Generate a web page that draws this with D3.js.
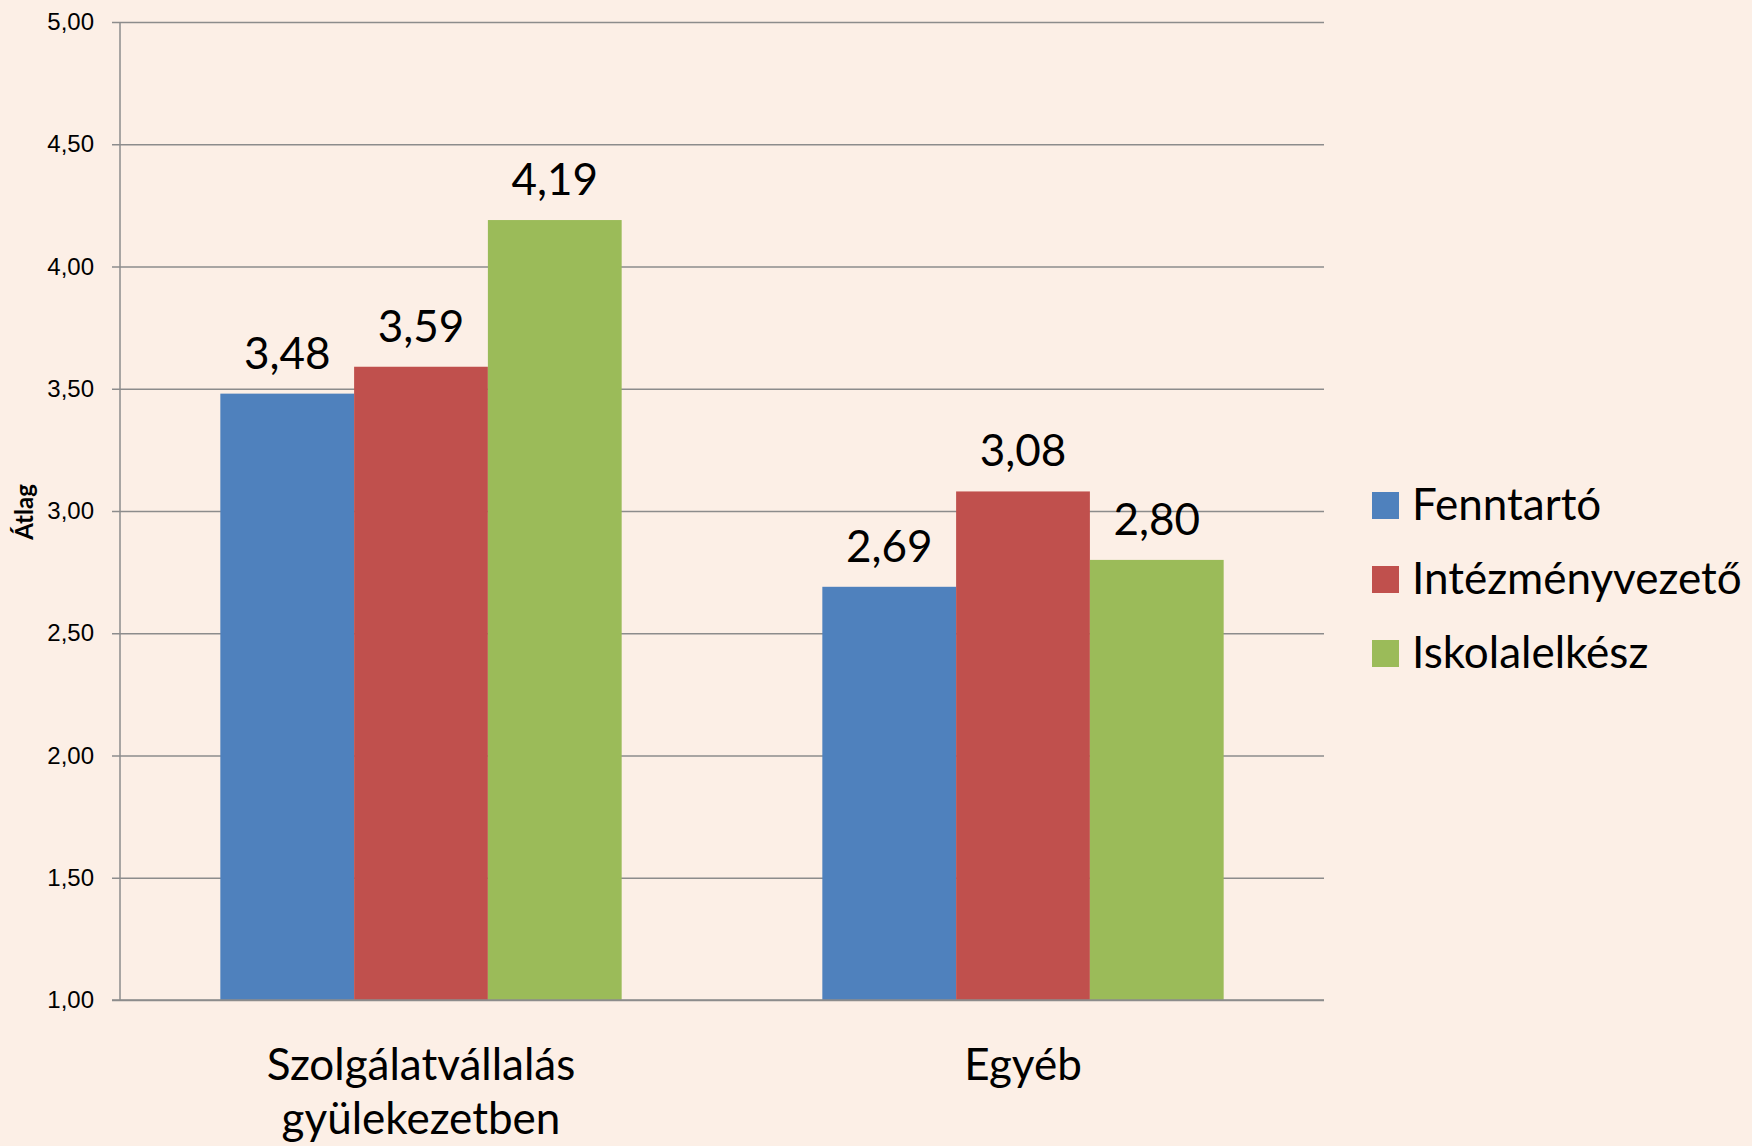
<!DOCTYPE html>
<html>
<head>
<meta charset="utf-8">
<script src="https://cdn.jsdelivr.net/npm/d3@7"></script>
<style>
  body { margin: 0; background: #fcefe6; }
  svg { display: block; font-family: Lato, Carlito, Calibri, sans-serif; }
</style>
</head>
<body>
<svg id="chart" width="1752" height="1146"></svg>
<script>
const categories = [['Szolgálatvállalás', 'gyülekezetben'], ['Egyéb']]
const seriesNames = ['Fenntartó', 'Intézményvezető', 'Iskolalelkész']
const fenntarto = [3.48, 2.69]
const intezmenyvezeto = [3.59, 3.08]
const iskolalelkesz = [4.19, 2.80]
const yTicks = [1, 1.5, 2, 2.5, 3, 3.5, 4, 4.5, 5]
const colors = ['#4f81bd', '#c0504d', '#9bbb59']

function BarChart(svgId) {
    this.svg = d3.select(svgId)
    this.series = [fenntarto, intezmenyvezeto, iskolalelkesz]
    this.load()
}

BarChart.prototype.load = function () {
    var svg = this.svg
    var left = 120, right = 1324, top = 22, bottom = 1000
    var fmt = (v) => v.toFixed(2).replace('.', ',')

    svg.append('rect')
        .attr('width', 1752)
        .attr('height', 1146)
        .attr('fill', '#fcefe6')

    this.x0 = d3.scaleBand()
        .domain(d3.range(categories.length))
        .range([left, right])
        .padding(0)

    this.x1 = d3.scaleBand()
        .domain(d3.range(seriesNames.length))
        .range([0, this.x0.bandwidth()])
        .paddingInner(0)
        .paddingOuter(0.75)

    this.y = d3.scaleLinear()
        .domain([1, 5])
        .range([bottom, top])

    // gridlines + left axis
    var yAxis = d3.axisLeft(this.y)
        .tickValues(yTicks)
        .tickSize(-(right - left))
        .tickSizeOuter(0)
        .tickFormat(fmt)
        .tickPadding(0)

    var ga = svg.append('g')
        .attr('transform', `translate(${left},0)`)
        .call(yAxis)
    ga.select('.domain').remove()
    ga.selectAll('.tick line')
        .attr('x1', -8)
        .attr('stroke', '#8c8c8c')
        .attr('stroke-width', 1.5)
    ga.selectAll('.tick text')
        .attr('x', -26)
        .attr('fill', '#000')
        .attr('font-size', 24)

    svg.append('line')
        .attr('x1', left).attr('x2', left)
        .attr('y1', top).attr('y2', bottom)
        .attr('stroke', '#8c8c8c')
        .attr('stroke-width', 1.5)

    // bars
    var groups = svg.append('g')
        .selectAll('g.group')
        .data(categories)
        .join('g')
            .attr('class', 'group')
            .attr('transform', (d, i) => `translate(${this.x0(i)},0)`)

    var cells = groups.selectAll('g.cell')
        .data((d, i) => this.series.map((s, k) => ({ k: k, v: s[i] })))
        .join('g')
            .attr('class', 'cell')

    cells.append('rect')
        .attr('x', (d) => this.x1(d.k))
        .attr('y', (d) => this.y(d.v))
        .attr('width', this.x1.bandwidth())
        .attr('height', (d) => this.y(1) - this.y(d.v))
        .attr('fill', (d) => colors[d.k])

    cells.append('text')
        .text((d) => fmt(d.v))
        .attr('x', (d) => this.x1(d.k) + this.x1.bandwidth() / 2)
        .attr('y', (d) => this.y(d.v) - 25)
        .attr('text-anchor', 'middle')
        .attr('font-size', 44)
        .attr('fill', '#000')

    // bottom baseline redraw over bars
    svg.append('line')
        .attr('x1', left - 8).attr('x2', right)
        .attr('y1', bottom).attr('y2', bottom)
        .attr('stroke', '#8c8c8c')
        .attr('stroke-width', 1.5)

    // category labels
    svg.append('g')
        .selectAll('text')
        .data(categories)
        .join('text')
            .attr('x', (d, i) => this.x0(i) + this.x0.bandwidth() / 2)
            .attr('y', 1080)
            .attr('text-anchor', 'middle')
            .attr('font-size', 44)
            .attr('fill', '#000')
            .selectAll('tspan')
            .data((d) => d)
            .join('tspan')
                .attr('x', function () { return d3.select(this.parentNode).attr('x') })
                .attr('dy', (d, i) => i === 0 ? 0 : 54)
                .text((d) => d)

    // y title
    svg.append('text')
        .text('Átlag')
        .attr('transform', 'translate(33,512) rotate(-90)')
        .attr('text-anchor', 'middle')
        .attr('font-size', 24)
        .attr('font-weight', 'bold')
        .attr('fill', '#000')

    // legend
    var legend = svg.append('g')
        .selectAll('g')
        .data(seriesNames)
        .join('g')
            .attr('transform', (d, i) => `translate(1372,${492 + i * 74})`)
    legend.append('rect')
        .attr('width', 27)
        .attr('height', 27)
        .attr('fill', (d, i) => colors[i])
    legend.append('text')
        .text((d) => d)
        .attr('x', 40)
        .attr('y', 28)
        .attr('font-size', 44)
        .attr('fill', '#000')
}

new BarChart('#chart')
</script>
</body>
</html>
